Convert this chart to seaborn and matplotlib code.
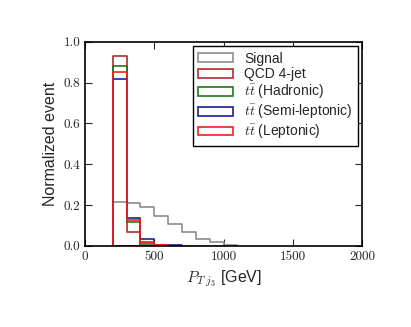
import numpy as np
import pandas as pd
import matplotlib
matplotlib.use("Agg")
import matplotlib.pyplot as plt
import seaborn as sns
from matplotlib.patches import Patch

# Data (bin width 100 GeV, first edge 200 GeV)
bin_edges = [200, 300, 400, 500, 600, 700, 800, 900, 1000, 1100]
signal = [0.216, 0.209, 0.193, 0.149, 0.106, 0.067, 0.034, 0.018, 0.005]
qcd = [0.931, 0.070, 0.013]
tt_had = [0.882, 0.119, 0.005]
tt_semi = [0.820, 0.137, 0.033, 0.005, 0.004]
tt_lep = [0.850, 0.129, 0.020, 0.003]

series = [
    ("Signal", signal, "#8c8c8c"),
    ("QCD 4-jet", qcd, "#b22a2a"),
    (r"$t\bar{t}$ (Hadronic)", tt_had, "#1a7a1a"),
    (r"$t\bar{t}$ (Semi-leptonic)", tt_semi, "#1c1c9c"),
    (r"$t\bar{t}$ (Leptonic)", tt_lep, "#ff1a1a"),
]

sns.set_style("ticks")
plt.rcParams["font.family"] = ["Liberation Sans", "DejaVu Sans"]
plt.rcParams["mathtext.fontset"] = "cm"

fig = plt.figure(figsize=(4.11, 3.27), dpi=100)
ax = fig.add_axes([0.207, 0.248, 0.674, 0.624])

handles = []
for label, vals, color in series:
    edges = bin_edges[: len(vals) + 1]
    centers = [(edges[i] + edges[i + 1]) / 2 for i in range(len(vals))]
    df = pd.DataFrame({"x": centers, "w": vals})
    sns.histplot(data=df, x="x", weights="w", bins=edges, element="step",
                 fill=True, color=color, facecolor="none", edgecolor=color,
                 alpha=1, linewidth=1.2, ax=ax)
    handles.append(Patch(facecolor="none", edgecolor=color, linewidth=1.2, label=label))

ax.set_xlim(0, 2000)
ax.set_ylim(0, 1.0)
ax.set_xticks([0, 500, 1000, 1500, 2000])
ax.set_yticks([0.0, 0.2, 0.4, 0.6, 0.8, 1.0])
ax.set_yticklabels(["0.0", "0.2", "0.4", "0.6", "0.8", "1.0"])
for lab in ax.get_xticklabels() + ax.get_yticklabels():
    lab.set_fontfamily("cmr10")
    lab.set_fontsize(9.5)
ax.tick_params(direction="in", top=True, right=True, length=5, width=0.8)
ax.set_xlabel(r"$P_{T\;j_3}$ [GeV]", fontsize=11.5)
ax.set_ylabel("Normalized event", fontsize=11.5)
for s in ax.spines.values():
    s.set_linewidth(1.2)
    s.set_color("black")

leg = ax.legend(handles=handles, loc="upper right", fontsize=10, frameon=True,
                fancybox=False, edgecolor="black", framealpha=1,
                handlelength=2.5, handleheight=0.6, borderaxespad=0.3,
                borderpad=0.4, labelspacing=0.12, handletextpad=0.8)
leg.get_frame().set_linewidth(1.0)

fig.savefig("out.png", dpi=100)
